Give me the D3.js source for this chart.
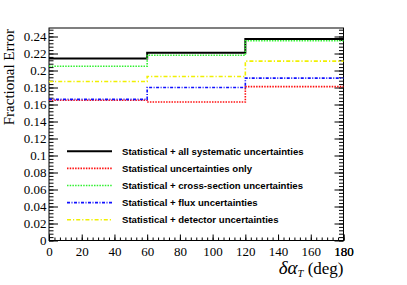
<!DOCTYPE html>
<html>
<head>
<meta charset="utf-8">
<script src="https://cdn.jsdelivr.net/npm/d3@7"></script>
<style>
body { margin: 0; background: #fff; }
svg { display: block; }
</style>
</head>
<body>
<svg class="chart" width="407" height="285"></svg>
<script>
// bin edges (deg) and fractional error per bin
const binEdges = [0, 60, 120, 180]
const totalErr = [0.214, 0.221, 0.237]
const statErr = [0.165, 0.163, 0.181]
const xsecErr = [0.205, 0.218, 0.235]
const fluxErr = [0.166, 0.180, 0.191]
const detErr = [0.187, 0.193, 0.211]

const seriesNames = [
	"Statistical + all systematic uncertainties",
	"Statistical uncertainties only",
	"Statistical + cross-section uncertainties",
	"Statistical + flux uncertainties",
	"Statistical + detector uncertainties"
]
const seriesValues = [totalErr, statErr, xsecErr, fluxErr, detErr]
const seriesColors = ["#000000", "#ff1010", "#30f030", "#1010ff", "#f0f000"]
const seriesDash = [null, "1.5,1.2", "1.5,1.2", "3,1.5,1,1.5", "4,2,1.2,2"]
const seriesWidth = [2, 1.6, 1.6, 1.6, 1.6]

const yTicks = d3.range(0, 13).map(i => i * 0.02)
const xTicks = d3.range(0, 10).map(i => i * 20)

const svg = d3.select("svg.chart")
const padL = 49, padT = 28, padR = 343.5, padB = 240.5

const x = d3.scaleLinear().domain([0, 180]).range([padL, padR])
const y = d3.scaleLinear().domain([0, 0.25]).range([padB, padT])

const serif = "Liberation Serif, Times New Roman, serif"
const yFmt = d3.format(".2~f")

// minor ticks
const yMinor = d3.range(0, 63).map(i => i * 0.004).filter(v => v <= 0.25)
const xMinor = d3.range(0, 55).map(i => i * 20 / 6).filter(v => v <= 180)

function styleAxis(g) {
	g.select(".domain").remove()
	g.selectAll("line").attr("stroke", "#000").attr("stroke-width", 1)
	g.selectAll("text").attr("font-family", serif).attr("font-size", 13).attr("fill", "#000")
}

svg.append("g").attr("transform", `translate(${padL},0)`)
	.call(d3.axisLeft(y).tickValues(yMinor).tickSize(-4.5).tickFormat(""))
	.call(styleAxis)
svg.append("g").attr("transform", `translate(${padL},0)`)
	.call(d3.axisLeft(y).tickValues(yTicks).tickSize(-9).tickPadding(2.5).tickFormat(yFmt))
	.call(styleAxis)
svg.append("g").attr("transform", `translate(${padR},0)`)
	.call(d3.axisRight(y).tickValues(yMinor).tickSize(-4.5).tickFormat(""))
	.call(styleAxis)
svg.append("g").attr("transform", `translate(${padR},0)`)
	.call(d3.axisRight(y).tickValues(yTicks).tickSize(-9).tickFormat(""))
	.call(styleAxis)
svg.append("g").attr("transform", `translate(0,${padB})`)
	.call(d3.axisBottom(x).tickValues(xMinor).tickSize(-3).tickFormat(""))
	.call(styleAxis)
svg.append("g").attr("transform", `translate(0,${padB})`)
	.call(d3.axisBottom(x).tickValues(xTicks.concat([180])).tickSize(-6).tickPadding(5.8).tickFormat(d3.format("d")))
	.call(styleAxis)

// frame
svg.append("rect")
	.attr("x", padL).attr("y", padT)
	.attr("width", padR - padL).attr("height", padB - padT)
	.attr("fill", "none").attr("stroke", "#000").attr("stroke-width", 1)

// step lines
const line = d3.line()
	.x(d => x(d[0]))
	.y(d => y(d[1]))
	.curve(d3.curveStepAfter)

seriesValues.forEach((vals, k) => {
	const pts = vals.map((v, i) => [binEdges[i], v])
	pts.push([binEdges[binEdges.length - 1], vals[vals.length - 1]])
	svg.append("path")
		.datum(pts)
		.attr("d", line)
		.attr("fill", "none")
		.attr("stroke", seriesColors[k])
		.attr("stroke-width", seriesWidth[k])
		.attr("stroke-dasharray", seriesDash[k])
})

// legend
const legend = svg.selectAll("g.legend")
	.data(seriesNames)
	.enter()
	.append("g")
	.attr("class", "legend")
	.attr("transform", (d, i) => "translate(67," + (151.3 + i * 17.1) + ")")

legend.append("line")
	.attr("x1", 0).attr("x2", 45)
	.attr("stroke", (d, i) => seriesColors[i])
	.attr("stroke-width", (d, i) => seriesWidth[i])
	.attr("stroke-dasharray", (d, i) => seriesDash[i])

legend.append("text")
	.attr("x", 55)
	.attr("y", 3.4)
	.attr("font-family", "Liberation Sans, Arial, sans-serif")
	.attr("font-weight", "bold")
	.attr("font-size", 9.6)
	.attr("fill", "#000")
	.text(d => d)

// axis titles
svg.append("text")
	.attr("transform", "translate(14,29) rotate(-90)")
	.attr("text-anchor", "end")
	.attr("font-family", serif)
	.attr("font-size", 15)
	.text("Fractional Error")

const xt = svg.append("text")
	.attr("x", padR)
	.attr("y", 273.5)
	.attr("text-anchor", "end")
	.attr("font-family", serif)
	.attr("font-size", 17)
xt.append("tspan").attr("font-style", "italic").attr("font-size", 19).text("δα")
xt.append("tspan").attr("font-style", "italic").attr("font-size", 10.5).attr("dy", 3.5).text("T")
xt.append("tspan").attr("dy", -3.5).text(" (deg)")
</script>
</body>
</html>
